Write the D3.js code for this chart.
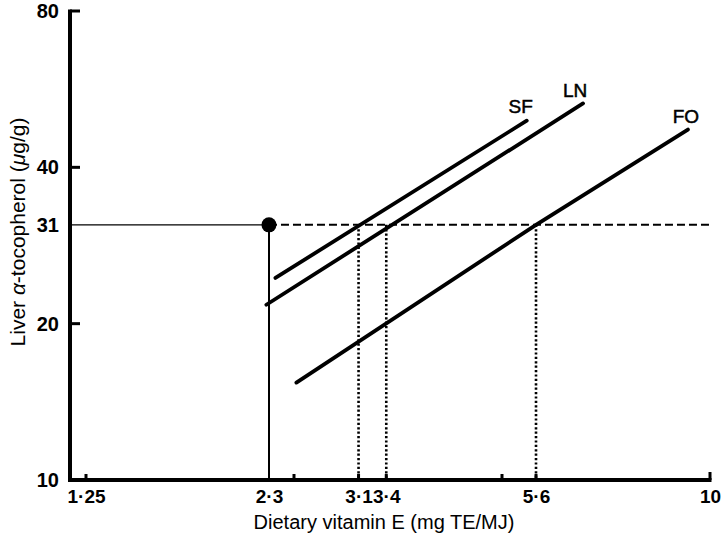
<!DOCTYPE html>
<html>
<head>
<meta charset="utf-8">
<script src="https://cdn.jsdelivr.net/npm/d3@7"></script>
<style>
  body { margin: 0; background: #fff; }
  text { font-family: "Liberation Sans", Arial, sans-serif; }
</style>
</head>
<body>
<script>

// tick values and labels
var xTicks = [1.25, 2.3, 2.5, 3.1, 3.4, 5, 5.6, 10];
var xTickLabels = ["1·25", "2·3", "", "3·1", "3·4", "", "5·6", "10"];
var yTicks = [10, 20, 31, 40, 80];
var yTickLabels = ["10", "20", "31", "40", "80"];

// fitted lines (x = dietary vitamin E, y = liver tocopherol)
var lineNames = ["SF", "LN", "FO"];
var sfX = [2.35, 5.43];
var sfY = [24.5, 49.2];
var lnX = [2.28, 6.55];
var lnY = [21.75, 53.1];
var foX = [2.52, 5.6, 9.29];
var foY = [15.4, 31, 47.3];

// reference point and intersections
var refX = 2.3, refY = 31;
var crossX = [3.1, 3.4, 5.6];

var width = 728, height = 541;

var svg = d3.select("body")
  .append("svg")
  .attr("width", width)
  .attr("height", height);

var xScale = d3.scaleLog()
  .domain([1.25, 10])
  .range([86, 710]);

var yScale = d3.scaleLog()
  .domain([10, 80])
  .range([480, 11]);

var axisLeftX = 70;

// reference lines
svg.append("line")
  .attr("x1", axisLeftX).attr("x2", xScale(refX))
  .attr("y1", yScale(refY)).attr("y2", yScale(refY))
  .attr("stroke", "#000").attr("stroke-width", 1.3);

svg.append("line")
  .attr("x1", xScale(refX)).attr("x2", xScale(refX))
  .attr("y1", yScale(refY)).attr("y2", yScale(10))
  .attr("stroke", "#000").attr("stroke-width", 2);

svg.append("line")
  .attr("x1", xScale(refX)).attr("x2", xScale(10) + 2)
  .attr("y1", yScale(refY)).attr("y2", yScale(refY))
  .attr("stroke", "#000").attr("stroke-width", 2)
  .attr("stroke-dasharray", "8,4");

svg.selectAll(".cross")
  .data(crossX)
  .enter()
  .append("line")
  .attr("class", "cross")
  .attr("x1", function(d) { return xScale(d); })
  .attr("x2", function(d) { return xScale(d); })
  .attr("y1", yScale(refY))
  .attr("y2", yScale(10))
  .attr("stroke", "#000").attr("stroke-width", 2.6)
  .attr("stroke-dasharray", "2.2,2.2");

// fitted lines
var series = [
  { name: "SF", xs: sfX, ys: sfY },
  { name: "LN", xs: lnX, ys: lnY },
  { name: "FO", xs: foX, ys: foY }
];

var line = d3.line()
  .x(function(d) { return xScale(d[0]); })
  .y(function(d) { return yScale(d[1]); });

series.forEach(function(s) {
  var pts = d3.zip(s.xs, s.ys);
  svg.append("path")
    .datum(pts)
    .attr("d", line)
    .attr("fill", "none")
    .attr("stroke", "#000")
    .attr("stroke-width", 3.8)
    .attr("stroke-linecap", "round");
});

var labelPos = { SF: [-6, -8], LN: [-8, -6], FO: [-2, -7] };
series.forEach(function(s) {
  var last = s.xs.length - 1;
  svg.append("text")
    .attr("x", xScale(s.xs[last]) + labelPos[s.name][0])
    .attr("y", yScale(s.ys[last]) + labelPos[s.name][1])
    .attr("text-anchor", "middle")
    .attr("stroke", "#000")
    .attr("stroke-width", 0.5)
    .style("font-size", "19px")
    .text(s.name);
});

svg.append("circle")
  .attr("cx", xScale(refX))
  .attr("cy", yScale(refY))
  .attr("r", 7.5)
  .attr("fill", "#000");

// axes
var yAxis = svg.append("g")
  .attr("transform", "translate(" + axisLeftX + ",0)")
  .call(d3.axisLeft(yScale)
    .tickValues(yTicks)
    .tickSize(0)
    .tickPadding(11)
    .tickFormat(function(d, i) { return yTickLabels[i]; }));
yAxis.select(".domain").remove();
yAxis.selectAll("text")
  .style("font-size", "20px")
  .style("font-weight", "bold")
  .attr("fill", "#000");

svg.selectAll(".ytick")
  .data([20, 40, 80])
  .enter()
  .append("line")
  .attr("class", "ytick")
  .attr("x1", axisLeftX).attr("x2", axisLeftX + 10)
  .attr("y1", function(d) { return yScale(d); })
  .attr("y2", function(d) { return yScale(d); })
  .attr("stroke", "#000").attr("stroke-width", 3);

var xAxis = svg.append("g")
  .attr("transform", "translate(0," + yScale(10) + ")")
  .call(d3.axisBottom(xScale)
    .tickValues(xTicks)
    .tickSize(0)
    .tickPadding(10)
    .tickFormat(function(d, i) { return xTickLabels[i]; }));
xAxis.select(".domain").remove();
xAxis.selectAll("text")
  .style("font-size", "19px")
  .style("font-weight", "bold")
  .attr("fill", "#000");

svg.selectAll(".xtick")
  .data(xTicks.filter(function(d) { return d !== refX; }))
  .enter()
  .append("line")
  .attr("class", "xtick")
  .attr("x1", function(d) { return xScale(d); })
  .attr("x2", function(d) { return xScale(d); })
  .attr("y1", yScale(10)).attr("y2", function(d) { return yScale(10) - (d === 10 ? 8 : 6); })
  .attr("stroke", "#000").attr("stroke-width", 3);

svg.append("line")
  .attr("x1", axisLeftX).attr("x2", axisLeftX)
  .attr("y1", yScale(80) - 1.5).attr("y2", yScale(10) + 2)
  .attr("stroke", "#000").attr("stroke-width", 4);

svg.append("line")
  .attr("x1", axisLeftX).attr("x2", xScale(10) + 1.5)
  .attr("y1", yScale(10)).attr("y2", yScale(10))
  .attr("stroke", "#000").attr("stroke-width", 4);

// axis titles
svg.append("text")
  .attr("text-anchor", "middle")
  .attr("transform", "translate(" + 25 + "," + 232 + ")rotate(-90)")
  .style("font-size", "21px")
  .html("Liver <tspan font-style='italic'>α</tspan>-tocopherol (<tspan font-style='italic'>μ</tspan>g/g)");

svg.append("text")
  .attr("text-anchor", "middle")
  .attr("x", 384)
  .attr("y", 529)
  .style("font-size", "20px")
  .text("Dietary vitamin E (mg TE/MJ)");

</script>
</body>
</html>
